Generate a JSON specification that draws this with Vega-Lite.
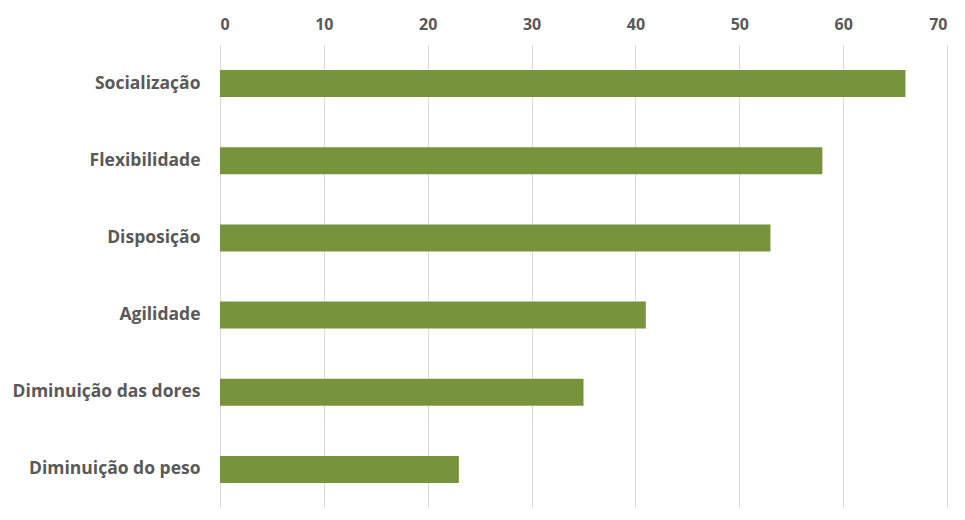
{
  "$schema": "https://vega.github.io/schema/vega-lite/v6.json",
  "autosize": "none",
  "width": 727,
  "height": 463,
  "padding": {"left": 220, "top": 45, "right": 18, "bottom": 12},
  "background": "white",
  "config": {"view": {"stroke": null}, "font": "Open Sans"},
  "data": {
    "values": [
      {"categoria": "Socialização", "valor": 66},
      {"categoria": "Flexibilidade", "valor": 58},
      {"categoria": "Disposição", "valor": 53},
      {"categoria": "Agilidade", "valor": 41},
      {"categoria": "Diminuição das dores", "valor": 35},
      {"categoria": "Diminuição do peso", "valor": 23}
    ]
  },
  "mark": {"type": "bar", "color": "#77933C"},
  "encoding": {
    "y": {
      "field": "categoria",
      "type": "nominal",
      "sort": null,
      "scale": {"paddingInner": 0.65, "paddingOuter": 0.325},
      "axis": {
        "title": null,
        "domain": false,
        "ticks": false,
        "labelPadding": 20,
        "labelLimit": 400,
        "labelFont": "Open Sans",
        "labelFontSize": 17.5,
        "labelFontWeight": "bold",
        "labelColor": "#595959",
        "grid": false
      }
    },
    "x": {
      "field": "valor",
      "type": "quantitative",
      "scale": {"domain": [0, 70], "nice": false},
      "axis": {
        "orient": "top",
        "title": null,
        "domain": false,
        "ticks": false,
        "values": [0, 10, 20, 30, 40, 50, 60, 70],
        "labelPadding": 13,
        "labelFont": "Open Sans",
        "labelFontSize": 16,
        "labelFontWeight": "bold",
        "labelColor": "#595959",
        "grid": true,
        "gridColor": "#d9d9d9",
        "gridWidth": 1
      }
    }
  }
}
